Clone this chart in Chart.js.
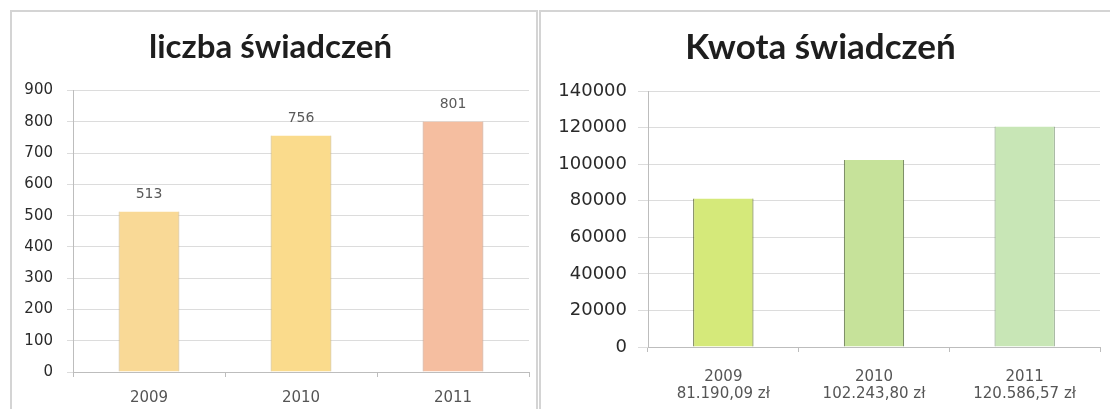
<!DOCTYPE html>
<html>
<head>
<meta charset="utf-8">
<script src="https://cdn.jsdelivr.net/npm/chart.js@4.4.1/dist/chart.umd.min.js"></script>
<style>
  html, body { margin: 0; padding: 0; background: #ffffff; width: 1110px; height: 409px; overflow: hidden; }
  .panel { position: absolute; box-sizing: border-box; border: 2px solid #d4d4d4; background: #fff; }
  #p1 { left: 10px; top: 10px; width: 528px; height: 420px; }
  #p2 { left: 539px; top: 10px; width: 590px; height: 420px; }
  canvas { position: absolute; }
  #c1 { left: 12px; top: 12px; }
  #c2 { left: 541px; top: 12px; }
</style>
</head>
<body>
<div class="panel" id="p1"></div>
<div class="panel" id="p2"></div>
<canvas id="c1" width="524" height="397"></canvas>
<canvas id="c2" width="582" height="397"></canvas>
<script>
// ---- data ----
const years = ['2009', '2010', '2011'];
const countValues = [513, 756, 801];
const amountValues = [81190.09, 102243.80, 120586.57];
const amountLabels = ['81.190,09 zł', '102.243,80 zł', '120.586,57 zł'];
const countTicks = { min: 0, max: 900, step: 100 };
const amountTicks = { min: 0, max: 140000, step: 20000 };
const title1 = 'liczba świadczeń';
const title2 = 'Kwota świadczeń';

const countColors = ['#F9D996', '#FADB8C', '#F5BEA0'];
const countBorders = ['#C8B58A', '#C9B37A', '#C49A86'];
const amountColors = ['#D5E97A', '#C6E29A', '#C8E6B6'];
const amountBorders = ['#4E5A22', '#5D7048', '#7C9474'];

const dataLabelPlugin = {
  id: 'valueLabels',
  afterDatasetsDraw(chart, args, opts) {
    if (!opts.show) return;
    const ctx = chart.ctx;
    const meta = chart.getDatasetMeta(0);
    ctx.save();
    ctx.font = '14px "DejaVu Sans"';
    ctx.fillStyle = '#5a5a5a';
    ctx.textAlign = 'center';
    ctx.textBaseline = 'middle';
    meta.data.forEach((el, i) => {
      ctx.fillText(String(chart.data.datasets[0].data[i]), el.x, el.y - 17);
    });
    ctx.restore();
  }
};

function makeChart(id, labels, values, colors, borders, ticksCfg, title, opts) {
  return new Chart(document.getElementById(id), {
    type: 'bar',
    data: {
      labels: labels,
      datasets: [{
        data: values,
        backgroundColor: colors,
        borderColor: borders,
        borderWidth: { left: 1, right: 1, top: 0, bottom: 0 },
        borderSkipped: false,
        categoryPercentage: 1.0,
        barPercentage: 0.4
      }]
    },
    options: {
      responsive: false,
      animation: false,
      events: [],
      layout: { padding: { left: 0, right: opts.padRight, top: 0, bottom: 0 } },
      plugins: {
        legend: { display: false },
        tooltip: { enabled: false },
        title: {
          display: true,
          text: title,
          color: '#1e1e1e',
          font: { family: 'Lato', weight: 'bold', size: opts.titleSize, lineHeight: 1.2 },
          padding: { top: opts.titleTop, bottom: opts.titleBottom }
        },
        valueLabels: { show: opts.showValues }
      },
      scales: {
        x: {
          offset: true,
          grid: { display: true, drawOnChartArea: false, drawTicks: true, tickLength: 5, color: '#bdbdbd', offset: true },
          border: { display: true, color: '#bdbdbd', width: 1 },
          ticks: {
            color: '#555555',
            font: { family: 'DejaVu Sans', size: 15, lineHeight: 1.15 },
            padding: opts.xPad,
            maxRotation: 0
          },
          afterFit(scale) { scale.height = opts.xHeight; }
        },
        y: {
          min: ticksCfg.min,
          max: ticksCfg.max,
          grid: { color: '#dcdcdc', tickLength: opts.yTickLen, lineWidth: 1 },
          border: { display: true, color: '#bdbdbd', width: 1 },
          ticks: {
            stepSize: ticksCfg.step,
            color: '#2a2a2a',
            font: { family: 'DejaVu Sans', size: opts.yFont },
            padding: opts.yPad,
            callback: (v) => String(v)
          },
          afterFit(scale) { scale.width = opts.yWidth; }
        }
      }
    },
    plugins: [dataLabelPlugin]
  });
}

makeChart('c1', years, countValues, countColors, countBorders, countTicks, title1, {
  padRight: 7, titleSize: 33, titleTop: 16, titleBottom: 23,
  xHeight: 37, xPad: 12, yWidth: 61, yTickLen: 6, yPad: 14, yFont: 15, showValues: true
});

makeChart('c2', years.map((y, i) => [y, amountLabels[i]]), amountValues, amountColors, amountBorders, amountTicks, title2, {
  padRight: 23, titleSize: 35, titleTop: 15, titleBottom: 22,
  xHeight: 62, xPad: 16, yWidth: 107, yTickLen: 10, yPad: 11, yFont: 18, showValues: false
});
</script>
</body>
</html>
